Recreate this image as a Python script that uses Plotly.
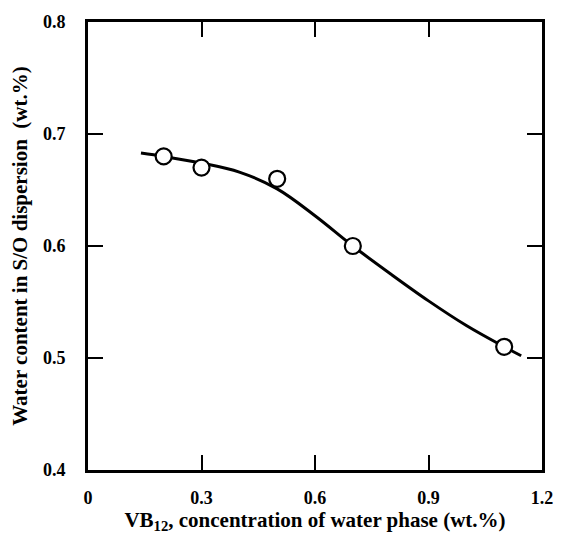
import plotly.graph_objects as go

# measured points
x_pts = [0.2, 0.3, 0.5, 0.7, 1.1]
y_pts = [0.68, 0.67, 0.66, 0.60, 0.51]

# fitted curve
x_fit = [0.14, 0.2, 0.3, 0.4, 0.5, 0.6, 0.7, 0.8, 0.9, 1.0, 1.1, 1.145]
y_fit = [0.683, 0.680, 0.674, 0.666, 0.651, 0.627, 0.600, 0.575, 0.551, 0.529, 0.510, 0.502]

x_ticks = [0, 0.3, 0.6, 0.9, 1.2]
x_ticklabels = ["0", "0.3", "0.6", "0.9", "1.2"]
y_ticks = [0.4, 0.5, 0.6, 0.7, 0.8]
y_ticklabels = ["0.4", "0.5", "0.6", "0.7", "0.8"]

font_family = "Liberation Serif"

fig = go.Figure()
fig.add_trace(go.Scatter(x=x_fit, y=y_fit, mode="lines", line=dict(color="black", width=3, shape="spline"),
                         showlegend=False, hoverinfo="skip"))
fig.add_trace(go.Scatter(x=x_pts, y=y_pts, mode="markers",
                         marker=dict(symbol="circle", size=16, color="white", line=dict(color="black", width=2.2)),
                         showlegend=False))

axis_common = dict(
    showgrid=False, zeroline=False, showline=True, linecolor="black", linewidth=3,
    mirror="ticks", ticks="inside", ticklen=15, tickwidth=1.5, tickcolor="black",
    tickfont=dict(family=font_family, size=18, color="black", weight="bold"),
)

fig.update_layout(
    width=565, height=534,
    margin=dict(l=88, r=13, t=15, b=57),
    paper_bgcolor="white", plot_bgcolor="white",
    font=dict(family=font_family, color="black"),
    xaxis=dict(range=[0, 1.2], tickvals=x_ticks, ticktext=["<b>%s</b>" % t for t in x_ticklabels],
               ticklabelstandoff=9,
               title=dict(text="<b>VB<sub>12</sub>, concentration of water phase (wt.%)</b>",
                          font=dict(family=font_family, size=21, color="black", weight="bold"), standoff=0),
               **axis_common),
    yaxis=dict(range=[0.4, 0.8], tickvals=y_ticks, ticktext=["<b>%s</b>" % t for t in y_ticklabels],
               ticklabelstandoff=16,
               title=dict(text="<b>Water content in S/O dispersion  (wt.%)</b>",
                          font=dict(family=font_family, size=21, color="black", weight="bold"), standoff=10),
               **axis_common),
)

fig.write_html("out.html", config={"displayModeBar": False},
               post_script="document.body.style.margin='0';document.body.style.overflow='hidden';")
